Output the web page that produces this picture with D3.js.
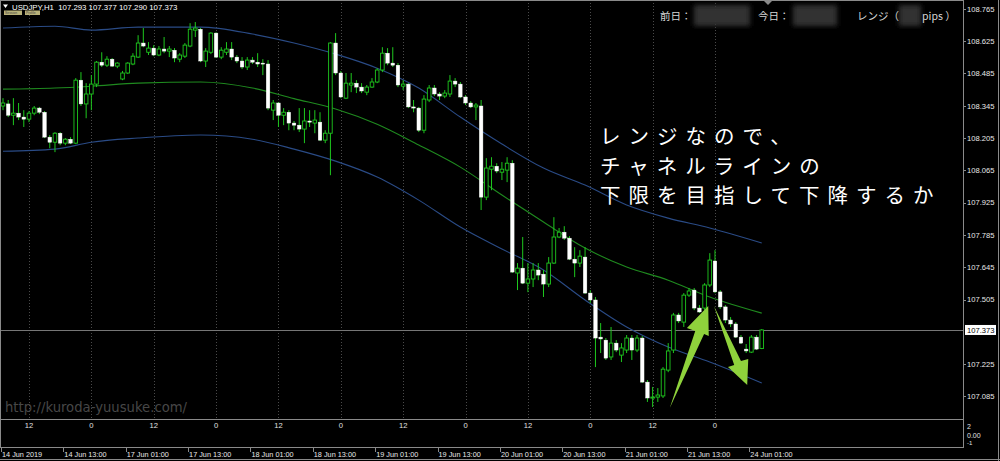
<!DOCTYPE html>
<html><head><meta charset="utf-8">
<script src="https://cdn.jsdelivr.net/npm/d3@7"></script>
<style>html,body{margin:0;padding:0;background:#000;overflow:hidden}</style>
</head><body>
<svg id="c" width="1000" height="461"></svg>
<script>
// ---------------- DATA ----------------
const symbol = "USDJPY,H1";
const headerOHLC = "107.293 107.377 107.290 107.373";
const opens = [
108.344,108.353,108.304,108.313,108.296,108.287,108.313,108.335,108.317,108.209,
108.187,108.226,108.183,108.200,108.183,108.456,108.353,108.396,108.439,108.534,
108.521,108.547,108.517,108.461,108.487,108.526,108.556,108.617,108.577,108.595,
108.565,108.591,108.582,108.586,108.547,108.560,108.604,108.673,108.677,108.539,
108.577,108.660,108.556,108.577,108.591,108.556,108.539,108.513,108.543,108.534,
108.530,108.526,108.326,108.357,108.304,108.317,108.270,108.261,108.244,108.279,
108.270,108.274,108.196,108.226,108.617,108.487,108.378,108.435,108.443,108.426,
108.404,108.426,108.448,108.500,108.573,108.530,108.521,108.430,108.439,108.340,
108.335,108.239,108.370,108.422,108.396,108.387,108.396,108.452,108.439,108.383,
108.357,108.340,108.344,107.949,108.070,108.083,108.057,108.066,108.096,107.620,
107.641,107.576,107.594,107.633,107.615,107.572,107.663,107.776,107.797,107.771,
107.680,107.663,107.689,107.533,107.503,107.342,107.329,107.256,107.316,107.264,
107.286,107.338,107.286,107.338,107.147,107.078,107.082,107.087,107.199,107.286,
107.438,107.407,107.524,107.546,107.468,107.468,107.568,107.672,107.538,107.473,
107.416,107.399,107.342,107.290,107.277,107.342,107.293];
const highs = [
108.378,108.370,108.378,108.357,108.326,108.322,108.344,108.340,108.322,108.218,
108.231,108.231,108.205,108.209,108.465,108.491,108.443,108.478,108.539,108.577,
108.560,108.552,108.534,108.496,108.534,108.573,108.651,108.682,108.621,108.608,
108.604,108.643,108.604,108.595,108.573,108.617,108.703,108.708,108.682,108.595,
108.664,108.664,108.599,108.621,108.621,108.565,108.556,108.556,108.556,108.573,
108.547,108.543,108.370,108.361,108.335,108.326,108.279,108.335,108.335,108.326,
108.326,108.317,108.239,108.621,108.660,108.496,108.487,108.487,108.456,108.443,
108.435,108.465,108.508,108.599,108.595,108.599,108.530,108.456,108.443,108.370,
108.340,108.391,108.435,108.435,108.404,108.413,108.478,108.465,108.448,108.391,
108.365,108.357,108.370,108.118,108.122,108.096,108.101,108.122,108.109,107.663,
107.776,107.663,107.663,107.663,107.633,107.689,107.862,107.815,107.823,107.780,
107.732,107.719,107.732,107.546,107.516,107.403,107.338,107.386,107.329,107.316,
107.351,107.351,107.351,107.347,107.156,107.126,107.121,107.212,107.316,107.447,
107.447,107.533,107.555,107.555,107.481,107.576,107.706,107.719,107.546,107.481,
107.429,107.407,107.351,107.312,107.351,107.351,107.377];
const lows = [
108.326,108.296,108.261,108.283,108.253,108.274,108.304,108.309,108.205,108.161,
108.144,108.174,108.174,108.179,108.179,108.344,108.291,108.326,108.426,108.513,
108.513,108.513,108.508,108.456,108.483,108.521,108.552,108.599,108.565,108.560,
108.560,108.573,108.556,108.534,108.534,108.552,108.599,108.643,108.534,108.513,
108.569,108.552,108.547,108.565,108.543,108.530,108.504,108.500,108.526,108.513,
108.478,108.326,108.283,108.253,108.261,108.239,108.239,108.231,108.183,108.253,
108.226,108.192,108.183,108.044,108.478,108.378,108.374,108.404,108.400,108.400,
108.391,108.422,108.443,108.491,108.521,108.513,108.426,108.413,108.335,108.317,
108.231,108.226,108.361,108.387,108.370,108.378,108.383,108.426,108.378,108.348,
108.335,108.283,107.893,107.936,107.979,108.053,108.023,108.014,107.620,107.546,
107.572,107.537,107.559,107.589,107.516,107.559,107.659,107.771,107.763,107.676,
107.602,107.646,107.529,107.490,107.212,107.273,107.243,107.243,107.277,107.234,
107.273,107.243,107.277,107.143,107.061,107.039,107.061,107.078,107.190,107.273,
107.403,107.386,107.516,107.459,107.447,107.459,107.559,107.533,107.464,107.403,
107.386,107.338,107.312,107.273,107.273,107.286,107.290];
const closes = [
108.357,108.304,108.313,108.296,108.287,108.313,108.335,108.317,108.209,108.187,
108.226,108.183,108.200,108.183,108.456,108.353,108.396,108.439,108.534,108.521,
108.547,108.517,108.530,108.487,108.530,108.560,108.617,108.604,108.595,108.565,
108.591,108.582,108.591,108.552,108.565,108.608,108.677,108.682,108.539,108.582,
108.660,108.556,108.586,108.591,108.556,108.539,108.513,108.543,108.534,108.526,
108.526,108.335,108.357,108.304,108.317,108.270,108.261,108.244,108.279,108.274,
108.283,108.196,108.226,108.617,108.487,108.383,108.443,108.443,108.426,108.409,
108.426,108.448,108.500,108.573,108.530,108.521,108.435,108.439,108.340,108.335,
108.239,108.374,108.422,108.396,108.387,108.400,108.452,108.439,108.383,108.357,
108.340,108.348,107.949,108.075,108.083,108.062,108.070,108.096,107.624,107.641,
107.576,107.594,107.633,107.611,107.572,107.663,107.776,107.797,107.771,107.680,
107.663,107.693,107.533,107.503,107.338,107.334,107.251,107.316,107.286,107.295,
107.338,107.286,107.338,107.147,107.078,107.082,107.091,107.203,107.282,107.438,
107.412,107.524,107.542,107.468,107.451,107.568,107.676,107.538,107.473,107.416,
107.399,107.342,107.316,107.282,107.342,107.290,107.373];

const bandBars  = [0,10,17,26,38,48,56,64,72,80,88,96,104,112,120,128,136,146];
const upperBand = [108.682,108.690,108.673,108.686,108.686,108.656,108.617,108.569,108.508,108.422,108.296,108.179,108.075,108.001,107.915,107.858,107.815,107.750];
const midBand   = [108.417,108.422,108.430,108.443,108.448,108.422,108.376,108.331,108.265,108.175,108.079,107.958,107.841,107.728,107.646,107.589,107.516,107.446];
const lowerBand = [108.148,108.157,108.187,108.205,108.218,108.200,108.157,108.105,108.036,107.936,107.819,107.724,107.633,107.503,107.386,107.299,107.234,107.143];

const priceTicks = [108.765,108.625,108.485,108.345,108.205,108.065,107.925,107.785,107.645,107.505,107.225,107.085];
const lastPrice = 107.373;
const timeLabelBars = [0,12,24,36,48,60,72,84,96,108,120,132,144];
const timeLabels = ["14 Jun 2019","14 Jun 13:00","17 Jun 01:00","17 Jun 13:00","18 Jun 01:00","18 Jun 13:00","19 Jun 01:00","19 Jun 13:00","20 Jun 01:00","20 Jun 13:00","21 Jun 01:00","21 Jun 13:00","24 Jun 01:00"];
const sessionBars = [5,17,29,41,53,65,77,89,101,113,125,137];
const sessionLabels = ["12","0","12","0","12","0","12","0","12","0","12","0"];
const subTicks = ["2","0.00","-1"];

const noteLines = ["レンジなので、","チャネルラインの","下限を目指して下降するか"];
const watermark = "http://kuroda-yuusuke.com/";
const infoLabels = ["前日：","今日：","レンジ（","pips ）"];

const arrowUpBars = [128.3,133.2,131.6,135.7,135.8,134.9];
const arrowUpPrices = [107.035,107.369,107.382,107.477,107.347,107.355];
const arrowDownBars = [136.8,142.0,143.4,143.2,139.5,140.7];
const arrowDownPrices = [107.477,107.238,107.247,107.134,107.212,107.221];

// ---------------- DRAW ----------------
const svg = d3.select("#c");
const W = 1000, H = 461;
const plotRight = 963, mainBottom = 419, subBottom = 447;
const N = opens.length;
const x = d3.scaleLinear().domain([0, 146]).range([3, 3 + 146*5.197]);
const y = d3.scaleLinear().domain([107.085, 108.765]).range([396.4, 8.9]);
const axisFont = "Liberation Sans, Arial, sans-serif";

svg.append("rect").attr("width", W).attr("height", H).attr("fill", "#000");

const defs = svg.append("defs");
defs.append("filter").attr("id","blur").append("feGaussianBlur").attr("stdDeviation", 2.5);
const clip = defs.append("clipPath").attr("id","plotclip");
clip.append("rect").attr("x",0).attr("y",0).attr("width",plotRight).attr("height",mainBottom);

const plot = svg.append("g").attr("clip-path","url(#plotclip)");

// session dotted lines
plot.selectAll(".vl").data(sessionBars).enter().append("line")
  .attr("x1", d => Math.round(x(d)) + 0.5).attr("x2", d => Math.round(x(d)) + 0.5)
  .attr("y1", 0).attr("y2", mainBottom)
  .attr("stroke", "#4a4a4a").attr("stroke-dasharray", "1,2").attr("stroke-width", 1);

// current price line
plot.append("line").attr("x1", 0).attr("x2", plotRight)
  .attr("y1", Math.round(y(lastPrice)) + 0.5).attr("y2", Math.round(y(lastPrice)) + 0.5)
  .attr("stroke", "#767676").attr("stroke-width", 1);

// bands
const bandLine = vals => d3.line().x((d,i) => x(bandBars[i])).y(d => y(d)).curve(d3.curveMonotoneX)(vals);
plot.append("path").attr("d", bandLine(upperBand)).attr("fill","none").attr("stroke","#2a4b86").attr("stroke-width",1.1);
plot.append("path").attr("d", bandLine(lowerBand)).attr("fill","none").attr("stroke","#2a4b86").attr("stroke-width",1.1);
plot.append("path").attr("d", bandLine(midBand)).attr("fill","none").attr("stroke","#1f8a1f").attr("stroke-width",1.1);

// candles
const bars = d3.range(N).map(i => ({i, o: opens[i], h: highs[i], l: lows[i], c: closes[i]}));
const bw = 3.6;
const cg = plot.append("g");
cg.selectAll(".wick").data(bars).enter().append("line")
  .attr("x1", d => x(d.i)).attr("x2", d => x(d.i))
  .attr("y1", d => y(d.h)).attr("y2", d => y(d.l))
  .attr("stroke", "#1ec81e").attr("stroke-width", 1);
cg.selectAll(".body").data(bars).enter().append("rect")
  .attr("x", d => x(d.i) - bw/2)
  .attr("y", d => y(Math.max(d.o, d.c)))
  .attr("width", bw)
  .attr("height", d => Math.max(1, Math.abs(y(d.o) - y(d.c))))
  .attr("fill", d => d.c >= d.o ? "#000" : "#fff")
  .attr("stroke", d => d.c >= d.o ? "#1ec81e" : "#f4fff4")
  .attr("stroke-width", d => d.c >= d.o ? 0.9 : 0.4);

// watermark
svg.append("text").attr("x", 5).attr("y", 412).text(watermark)
  .attr("font-family", "DejaVu Sans, sans-serif").attr("font-size", 13.2)
  .attr("fill", "#474747");

// annotation text
svg.append("g").selectAll("text").data(noteLines).enter().append("text")
  .attr("x", 600).attr("y", (d,i) => 144 + i*29.5)
  .text(d => d)
  .attr("font-family", "Noto Sans CJK JP, sans-serif").attr("font-size", 20.5)
  .attr("font-weight", 400)
  .attr("letter-spacing", 8)
  .attr("fill", "#fff");

// arrows
const arrowPath = (bs, ps) => d3.line().x((d,i) => x(bs[i])).y((d,i) => y(ps[i])).curve(d3.curveLinearClosed)(bs);
svg.append("path").attr("d", arrowPath(arrowUpBars, arrowUpPrices)).attr("fill", "#8fd23c");
svg.append("path").attr("d", arrowPath(arrowDownBars, arrowDownPrices)).attr("fill", "#8fd23c");

// header left
svg.append("path").attr("d", "M3,4.5 L8,4.5 L5.5,8 Z").attr("fill", "#fff");
svg.append("text").attr("x", 12).attr("y", 9.5).text(symbol + "  " + headerOHLC)
  .attr("font-family", axisFont).attr("font-size", 7.8).attr("fill", "#fff")
  .style("white-space","pre");
svg.append("rect").attr("x",4).attr("y",10.5).attr("width",18).attr("height",4.5).attr("fill","#b9b27a");
svg.append("rect").attr("x",25).attr("y",10.5).attr("width",15).attr("height",4.5).attr("fill","#b9b27a");
svg.append("text").attr("x",5).attr("y",14.2).text("Session").attr("font-size",3.4).attr("font-family",axisFont).attr("fill","#444");
svg.append("text").attr("x",26).attr("y",14.2).text("Profile").attr("font-size",3.4).attr("font-family",axisFont).attr("fill","#444");

// header right (info panel)
const blurG = svg.append("g").attr("filter","url(#blur)");
[[694,5,56,21],[793,5,44,21],[899,5,22,21]].forEach(r => blurG.append("rect")
  .attr("x",r[0]).attr("y",r[1]).attr("width",r[2]).attr("height",r[3]).attr("fill","#303030"));
const infoX = [660, 758, 857, 922];
svg.append("g").selectAll("text").data(infoLabels).enter().append("text")
  .attr("x", (d,i) => infoX[i]).attr("y", 20).text(d => d)
  .attr("font-family", "Noto Sans CJK JP, sans-serif").attr("font-size", 10.5)
  .attr("fill", "#d6d6d6");
svg.append("path").attr("d","M764,1 L772,1 L768,5 Z").attr("fill","#8a8a8a");

// frames
const fr = svg.append("g").attr("stroke","#8a8a8a").attr("stroke-width",1).attr("fill","none");
fr.append("line").attr("x1",0).attr("x2",plotRight).attr("y1",0.5).attr("y2",0.5);
fr.append("line").attr("x1",0.5).attr("x2",0.5).attr("y1",0).attr("y2",subBottom);
fr.append("line").attr("x1",plotRight+0.5).attr("x2",plotRight+0.5).attr("y1",0).attr("y2",subBottom+1);
fr.append("line").attr("x1",0).attr("x2",plotRight).attr("y1",mainBottom+0.5).attr("y2",mainBottom+0.5);
fr.append("line").attr("x1",0).attr("x2",plotRight).attr("y1",subBottom+0.5).attr("y2",subBottom+0.5);
fr.append("line").attr("x1",W-1.5).attr("x2",W-1.5).attr("y1",0).attr("y2",H);
fr.append("line").attr("x1",0).attr("x2",W).attr("y1",H-1.5).attr("y2",H-1.5);

// right price axis
const ra = svg.append("g");
ra.selectAll("line").data(priceTicks).enter().append("line")
  .attr("x1", plotRight).attr("x2", plotRight + 3)
  .attr("y1", d => Math.round(y(d)) + 0.5).attr("y2", d => Math.round(y(d)) + 0.5)
  .attr("stroke", "#8a8a8a");
ra.selectAll("text").data(priceTicks).enter().append("text")
  .attr("x", plotRight + 4).attr("y", d => y(d) + 2.8)
  .text(d => d.toFixed(3))
  .attr("font-family", axisFont).attr("font-size", 7.6).attr("fill", "#e8e8e8");
ra.append("rect").attr("x", plotRight + 2).attr("y", y(lastPrice) - 5).attr("width", 31).attr("height", 10).attr("fill", "#fff");
ra.append("text").attr("x", plotRight + 4).attr("y", y(lastPrice) + 2.8).text(lastPrice.toFixed(3))
  .attr("font-family", axisFont).attr("font-size", 7.6).attr("fill", "#000");

// subwindow labels
svg.append("g").selectAll("text").data(sessionBars).enter().append("text")
  .attr("x", d => x(d)).attr("y", 428).attr("text-anchor","middle")
  .text((d,i) => sessionLabels[i])
  .attr("font-family", axisFont).attr("font-size", 7.6).attr("fill", "#e0e0e0");
const subY = [429, 437.5, 445];
const subSize = [7, 7, 6];
svg.append("g").selectAll("text").data(subTicks).enter().append("text")
  .attr("x", plotRight + 4).attr("y", (d,i) => subY[i]).text(d => d)
  .attr("font-family", axisFont).attr("font-size", (d,i) => subSize[i]).attr("fill", "#e0e0e0");

// time axis
const ta = svg.append("g");
ta.selectAll("line").data(timeLabelBars).enter().append("line")
  .attr("x1", d => Math.max(1.5, Math.round(x(d)) - 1.5)).attr("x2", d => Math.max(1.5, Math.round(x(d)) - 1.5))
  .attr("y1", subBottom + 1).attr("y2", subBottom + 5)
  .attr("stroke", "#8a8a8a");
ta.selectAll("text").data(timeLabelBars).enter().append("text")
  .attr("x", d => Math.max(2, x(d) - 1)).attr("y", 456.5)
  .text((d,i) => timeLabels[i])
  .attr("font-family", axisFont).attr("font-size", 7.3).attr("fill", "#e8e8e8");
</script>
</body></html>
